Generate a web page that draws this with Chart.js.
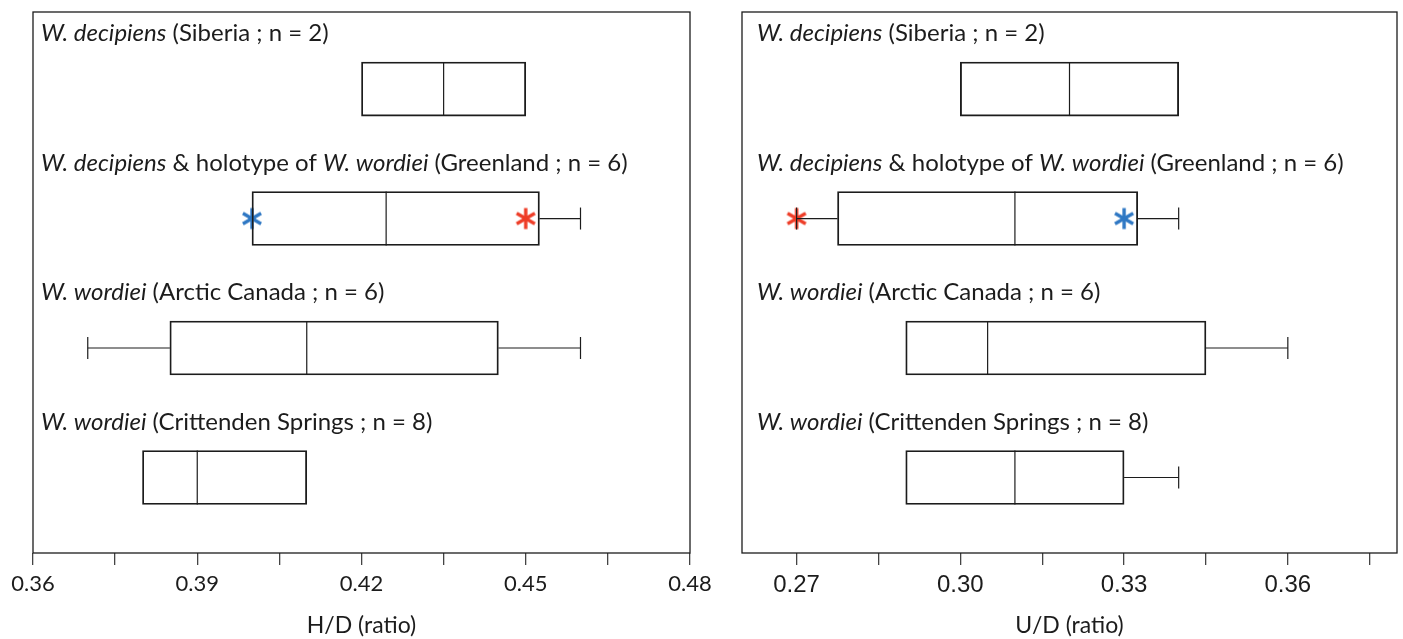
<!DOCTYPE html>
<html><head><meta charset="utf-8">
<script src="https://cdn.jsdelivr.net/npm/chart.js@4/dist/chart.umd.min.js"></script>
<style>
html,body{margin:0;padding:0;background:#fff;}
body{width:1403px;height:639px;position:relative;overflow:hidden;}
#c1{position:absolute;left:0;top:0;}
#c2{position:absolute;left:712px;top:0;}
</style></head><body>
<canvas id="c1" width="720" height="639"></canvas>
<canvas id="c2" width="691" height="639"></canvas>
<script>
// ---------- data ----------
const groups = ['Siberia', 'Greenland', 'Arctic Canada', 'Crittenden Springs'];
const groupLabels = [
  [['W. decipiens', true], [' (Siberia ; n = 2)', false]],
  [['W. decipiens', true], [' & holotype of ', false], ['W. wordiei', true], [' (Greenland ; n = 6)', false]],
  [['W. wordiei', true], [' (Arctic Canada ; n = 6)', false]],
  [['W. wordiei', true], [' (Crittenden Springs ; n = 8)', false]]
];

// H/D (ratio)
const hdMin    = [0.420, 0.400, 0.370, 0.380];
const hdQ1     = [0.420, 0.400, 0.385, 0.380];
const hdMedian = [0.435, 0.4245, 0.410, 0.390];
const hdQ3     = [0.450, 0.4525, 0.445, 0.410];
const hdMax    = [0.450, 0.460, 0.460, 0.410];
const hdTickValues = [0.36, 0.375, 0.39, 0.405, 0.42, 0.435, 0.45, 0.465, 0.48];
const hdTickLabels = ['0.36', '', '0.39', '', '0.42', '', '0.45', '', '0.48'];

// U/D (ratio)
const udMin    = [0.300, 0.270, 0.290, 0.290];
const udQ1     = [0.300, 0.2775, 0.290, 0.290];
const udMedian = [0.320, 0.310, 0.305, 0.310];
const udQ3     = [0.340, 0.3325, 0.345, 0.330];
const udMax    = [0.340, 0.340, 0.360, 0.340];
const udTickValues = [0.27, 0.285, 0.30, 0.315, 0.33, 0.345, 0.36, 0.375];
const udTickLabels = ['0.27', '', '0.30', '', '0.33', '', '0.36', ''];

// highlighted specimens (Greenland group)
const starGroup = [1];
const hdBlueStar = [0.400];
const hdRedStar  = [0.450];
const udBlueStar = [0.330];
const udRedStar  = [0.270];

// ---------- helpers ----------
function makeStar(color) {
  const s = 24, c = document.createElement('canvas');
  c.width = s; c.height = s;
  const g = c.getContext('2d');
  g.strokeStyle = color; g.lineWidth = 3.4; g.lineCap = 'butt';
  const r = 10.5, cx = s / 2, cy = s / 2;
  for (const a of [90, 30, -30]) {
    const t = a * Math.PI / 180;
    g.beginPath();
    g.moveTo(cx - r * Math.cos(t), cy - r * Math.sin(t));
    g.lineTo(cx + r * Math.cos(t), cy + r * Math.sin(t));
    g.stroke();
  }
  return c;
}
const blueStar = makeStar('#2f78c4');
const redStar = makeStar('#ee3d27');
const INK = '#1c1c1c';

const boxExtras = {
  id: 'boxExtras',
  beforeDatasetsDraw(chart) {
    const {ctx, chartArea: a} = chart;
    ctx.save();
    ctx.strokeStyle = INK; ctx.lineWidth = 1.3;
    ctx.strokeRect(a.left, a.top, a.right - a.left, a.bottom - a.top);
    ctx.restore();
  },
  afterDatasetDraw(chart, args) {
    if (args.index !== 0) return;
    const o = chart.options.plugins.boxExtras;
    const xs = chart.scales.x;
    const meta = chart.getDatasetMeta(0);
    const ctx = chart.ctx;
    ctx.save();
    ctx.strokeStyle = INK; ctx.lineWidth = 1.2;
    meta.data.forEach((bar, i) => {
      const h = bar.height, y = bar.y;
      const line = (x1, y1, x2, y2) => { ctx.beginPath(); ctx.moveTo(x1, y1); ctx.lineTo(x2, y2); ctx.stroke(); };
      const m = xs.getPixelForValue(o.median[i]);
      line(m, y - h / 2, m, y + h / 2);
      const cap = 11;
      if (o.min[i] < o.q1[i]) {
        const a1 = xs.getPixelForValue(o.min[i]), b1 = xs.getPixelForValue(o.q1[i]);
        line(a1, y, b1, y); line(a1, y - cap, a1, y + cap);
      }
      if (o.max[i] > o.q3[i]) {
        const a2 = xs.getPixelForValue(o.q3[i]), b2 = xs.getPixelForValue(o.max[i]);
        line(a2, y, b2, y); line(b2, y - cap, b2, y + cap);
      }
    });
    ctx.restore();
  },
  afterDraw(chart) {
    const o = chart.options.plugins.boxExtras;
    const ys = chart.scales.y, ctx = chart.ctx;
    ctx.save();
    ctx.fillStyle = INK; ctx.textBaseline = 'alphabetic';
    groupLabels.forEach((parts, i) => {
      let x = chart.chartArea.left + o.labelOffset;
      const y = ys.getPixelForValue(i) - 48;
      parts.forEach(([t, it]) => {
        ctx.font = (it ? 'italic ' : '') + o.labelFont;
        ctx.fillText(t, x, y);
        x += ctx.measureText(t).width;
      });
    });
    ctx.restore();
  }
};

function build(id, cfg) {
  return new Chart(document.getElementById(id), {
    type: 'bar',
    data: {
      datasets: [
        {
          type: 'bar', indexAxis: 'y',
          data: groups.map((g, i) => ({y: i, x: [cfg.q1[i], cfg.q3[i]]})),
          backgroundColor: 'rgba(255,255,255,0)', borderColor: INK, borderWidth: 1.2,
          borderSkipped: false, barThickness: 54
        },
        {
          type: 'scatter',
          data: starGroup.map((g, k) => ({x: cfg.red[k], y: g})),
          pointStyle: redStar, pointRadius: 12
        },
        {
          type: 'scatter',
          data: starGroup.map((g, k) => ({x: cfg.blue[k], y: g})),
          pointStyle: blueStar, pointRadius: 12
        }
      ]
    },
    options: {
      responsive: false, animation: false,
      layout: {padding: cfg.padding, autoPadding: false},
      plugins: {
        legend: {display: false}, tooltip: {enabled: false},
        boxExtras: {median: cfg.median, min: cfg.min, max: cfg.max, q1: cfg.q1, q3: cfg.q3,
                    labelOffset: cfg.labelOffset, labelFont: '24px Lato'}
      },
      scales: {
        x: {
          type: 'linear', position: 'bottom', min: cfg.xmin, max: cfg.xmax, offset: false,
          afterBuildTicks: ax => { ax.ticks = cfg.tickValues.map(v => ({value: v})); },
          afterFit: ax => { ax.height = 86; },
          ticks: {
            autoSkip: false, maxRotation: 0, padding: 6, color: INK,
            font: cfg.tickFont,
            callback: (v, i) => cfg.tickLabels[i]
          },
          grid: {drawOnChartArea: false, drawTicks: true, tickLength: 12, color: '#444', lineWidth: 1.3, offset: false},
          border: {display: false},
          title: {display: true, text: cfg.title, color: INK, font: {family: 'Lato', size: 23},
                  padding: {top: 0, bottom: 0}}
        },
        y: {type: 'linear', min: -0.595, max: 3.583, reverse: true, display: false,
            offset: false, grid: {offset: false}}
      }
    },
    plugins: [boxExtras]
  });
}

build('c1', {
  q1: hdQ1, q3: hdQ3, median: hdMedian, min: hdMin, max: hdMax,
  red: hdRedStar, blue: hdBlueStar,
  xmin: 0.36, xmax: 0.48, tickValues: hdTickValues, tickLabels: hdTickLabels,
  tickFont: {family: 'Lato', size: 22}, title: 'H/D (ratio)',
  padding: {left: 33, right: 30, top: 12, bottom: 0}, labelOffset: 8
});
build('c2', {
  q1: udQ1, q3: udQ3, median: udMedian, min: udMin, max: udMax,
  red: udRedStar, blue: udBlueStar,
  xmin: 0.26, xmax: 0.38, tickValues: udTickValues, tickLabels: udTickLabels,
  tickFont: {family: 'Liberation Sans', size: 24}, title: 'U/D (ratio)',
  padding: {left: 30, right: 6, top: 12, bottom: 0}, labelOffset: 15
});
</script>
</body></html>
